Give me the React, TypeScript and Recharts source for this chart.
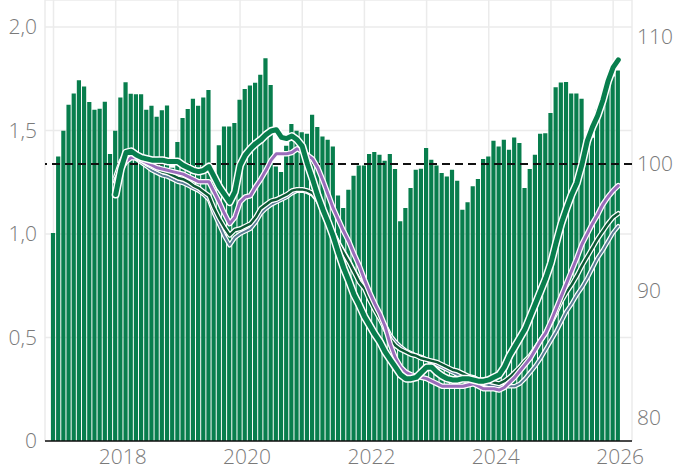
import React from "react";
import {
  ComposedChart,
  Bar,
  Line,
  XAxis,
  YAxis,
  CartesianGrid,
  ReferenceLine,
} from "recharts";

// monthly bars, Jan 2017 .. Feb 2026 (left axis)
const barValues = [
  1.005, 1.374, 1.499, 1.624, 1.679, 1.743, 1.712, 1.637, 1.6, 1.605, 1.638, 1.386,
  1.499, 1.659, 1.733, 1.677, 1.675, 1.675, 1.6, 1.619, 1.566, 1.598, 1.621, 1.32,
  1.444, 1.56, 1.603, 1.653, 1.619, 1.659, 1.695, 1.3, 1.428, 1.519, 1.519, 1.536,
  1.648, 1.7, 1.717, 1.73, 1.769, 1.849, 1.72, 1.326, 1.299, 1.426, 1.531, 1.499,
  1.491, 1.484, 1.576, 1.516, 1.471, 1.455, 1.423, 1.186, 1.125, 1.214, 1.281, 1.331,
  1.331, 1.386, 1.396, 1.383, 1.354, 1.386, 1.314, 1.061, 1.125, 1.222, 1.31, 1.315,
  1.415, 1.359, 1.331, 1.294, 1.278, 1.31, 1.257, 1.117, 1.153, 1.23, 1.265, 1.362,
  1.374, 1.45, 1.423, 1.455, 1.407, 1.466, 1.439, 1.222, 1.314, 1.383, 1.484, 1.487,
  1.584, 1.708, 1.732, 1.734, 1.679, 1.679, 1.653, 1.46, 1.465, 1.6, 1.67, 1.74,
  1.76, 1.79,
];

// index lines start in Jan 2018 (right axis)
const LINE_START = 12;

const thickGreen = [
  97.6, 99.6, 100.9, 101.0, 100.7, 100.5, 100.4, 100.3, 100.3, 100.3, 100.2, 100.2,
  100.2, 99.9, 99.7, 99.5, 99.4, 99.5, 99.8, 99.0, 98.2, 97.6, 97.0, 97.8,
  99.9, 100.7, 101.2, 101.6, 101.9, 102.3, 102.6, 102.7, 102.1, 102.0, 102.2, 101.9,
  101.4, 100.0, 98.8, 97.5, 96.4, 95.4, 94.3, 93.0, 91.8, 90.8, 89.7, 88.9,
  88.0, 87.3, 86.6, 86.0, 85.2, 84.6, 84.0, 83.4, 83.1, 83.1, 83.2, 83.6,
  84.0, 84.0, 83.6, 83.3, 83.1, 83.0, 83.0, 83.1, 83.1, 83.0, 82.9, 82.9,
  83.0, 83.2, 83.4, 84.0, 84.9, 85.6, 86.3, 87.0, 88.0, 89.0, 90.0, 91.0,
  92.2, 93.8, 95.3, 96.5, 97.6, 98.5, 100.0, 101.8, 102.9, 103.8, 105.0, 106.5,
  107.6, 108.2,
];

const purple = [
  98.6, 99.6, 100.2, 100.5, 100.5, 100.3, 100.1, 99.9, 99.7, 99.6, 99.5, 99.4,
  99.3, 99.2, 99.0, 98.8, 98.6, 98.6, 98.6, 97.8, 97.0, 96.1, 95.3, 95.8,
  97.0, 97.4, 97.5, 98.2, 98.8, 99.5, 100.3, 100.8, 100.8, 100.8, 100.9, 101.2,
  101.0, 100.7, 100.4, 99.7, 98.7, 97.6, 96.5, 95.6, 94.7, 93.9, 92.9, 92.0,
  90.9, 89.9, 89.0, 88.2, 87.2, 85.8, 84.7, 84.0, 83.6, 83.4, 83.3, 83.2,
  83.1, 82.9, 82.7, 82.5, 82.5, 82.5, 82.5, 82.5, 82.6, 82.7, 82.5, 82.3,
  82.3, 82.3, 82.2, 82.4, 82.8, 83.2, 83.7, 84.2, 84.7, 85.4, 86.1, 86.7,
  87.6, 88.6, 89.6, 90.6, 91.6, 92.6, 93.7, 94.5, 95.3, 96.0, 96.8, 97.4,
  97.9, 98.3,
];

const darkGreen = [
  99.0, 100.2, 100.9, 100.9, 100.6, 100.3, 100.0, 99.8, 99.6, 99.4, 99.3, 99.1,
  98.9, 98.8, 98.6, 98.3, 98.1, 97.8, 97.5, 96.5, 95.7, 95.0, 94.4, 94.8,
  94.9, 95.1, 95.3, 95.8, 96.5, 96.8, 97.1, 97.2, 97.4, 97.6, 97.9, 98.0,
  98.0, 97.9, 97.7, 97.2, 96.4, 95.5, 94.5, 93.7, 93.0, 92.3, 91.5, 90.7,
  90.2, 89.3, 88.5, 87.8, 87.0, 86.2, 85.7, 85.4, 85.2, 85.0, 84.9, 84.7,
  84.6, 84.5, 84.4, 84.2, 84.0, 83.8, 83.7, 83.5, 83.3, 83.2, 83.0, 83.0,
  82.9, 82.8, 82.7, 82.9, 83.2, 83.6, 84.0, 84.5, 84.9, 85.5, 86.1, 86.7,
  87.5, 88.3, 89.2, 89.9, 90.5, 91.2, 92.0, 92.7, 93.4, 94.1, 94.7, 95.3,
  95.8, 96.1,
];

const slate = [
  98.8, 99.9, 100.6, 100.7, 100.4, 100.1, 99.8, 99.5, 99.3, 99.1, 99.0, 98.8,
  98.6, 98.5, 98.3, 98.1, 97.9, 97.6, 97.2, 96.1, 95.2, 94.3, 93.6, 94.2,
  94.5, 94.7, 94.9, 95.4, 96.1, 96.5, 96.8, 97.0, 97.2, 97.4, 97.7, 97.9,
  97.9, 97.8, 97.6, 97.1, 96.4, 95.5, 94.6, 93.8, 93.1, 92.4, 91.6, 90.9,
  90.3, 89.5, 88.7, 88.0, 87.3, 86.5, 86.0, 85.6, 85.3, 85.1, 84.9, 84.8,
  84.6, 84.4, 84.2, 84.0, 83.8, 83.6, 83.4, 83.2, 83.0, 82.9, 82.8, 82.7,
  82.6, 82.5, 82.5, 82.5, 82.5, 82.5, 82.7, 83.1, 83.6, 84.1, 84.7, 85.4,
  86.1, 86.8, 87.6, 88.4, 89.0, 89.7, 90.3, 91.0, 91.8, 92.6, 93.2, 93.9,
  94.6, 95.1,
];

const yearTicks = [0, 12, 24, 36, 48, 60, 72, 84, 96, 108];
const yearLabels = ["", "2018", "", "2020", "", "2022", "", "2024", "", "2026"];
const leftTicks = [0, 0.5, 1, 1.5, 2];
const rightTicks = [80, 90, 100, 110];

const GREEN = "#087e4d";
const PURPLE = "#9a6cba";
const DARK = "#0c5a35";
const SLATE = "#5c7d96";
const TICK = { fontSize: 21, fill: "#7a7a7a", fontWeight: 300 };

const lineAt = (arr: number[], i: number) =>
  i >= LINE_START ? arr[i - LINE_START] : null;

const data = barValues.map((v, i) => ({
  i,
  rate: v,
  g1: lineAt(thickGreen, i),
  pu: lineAt(purple, i),
  dg: lineAt(darkGreen, i),
  sl: lineAt(slate, i),
}));

function outlined(key: string, color: string, w: number, halo: number) {
  return [
    <Line
      key={key + "-halo"}
      yAxisId="right"
      dataKey={key}
      stroke="#ffffff"
      strokeWidth={w + halo}
      dot={false}
      activeDot={false}
      legendType="none"
      strokeLinejoin="round"
      strokeLinecap="round"
      isAnimationActive={false}
    />,
    <Line
      key={key}
      yAxisId="right"
      dataKey={key}
      stroke={color}
      strokeWidth={w}
      dot={false}
      activeDot={false}
      legendType="none"
      strokeLinejoin="round"
      strokeLinecap="round"
      isAnimationActive={false}
    />,
  ];
}

export default function App() {
  return (
    <div style={{ position: "absolute", left: 0, top: 0 }}>
      <ComposedChart
        width={684}
        height={471}
        data={data}
        margin={{ top: 0, right: 0, bottom: 0, left: 0 }}
        style={{ fontFamily: "'Open Sans', sans-serif" }}
      >
        <CartesianGrid yAxisId="left" stroke="#ebebeb" strokeWidth={1.5} />
        <XAxis
          dataKey="i"
          type="number"
          domain={[-1.64, 111.64]}
          allowDataOverflow
          ticks={yearTicks}
          interval={0}
          tickFormatter={(v: number) => yearLabels[yearTicks.indexOf(v)] ?? ""}
          tickLine={false}
          axisLine={{ stroke: "#111", strokeWidth: 1.5 }}
          tick={{ ...TICK, dx: 7 }}
          height={30}
        />
        <YAxis
          yAxisId="left"
          domain={[0, 2.13]}
          ticks={leftTicks}
          allowDataOverflow
          tickFormatter={(v: number) => (v === 0 ? "0" : v.toFixed(1).replace(".", ","))}
          tickLine={false}
          axisLine={false}
          tick={TICK}
          width={45}
        />
        <YAxis
          yAxisId="right"
          orientation="right"
          domain={[78.19, 112.91]}
          ticks={rightTicks}
          allowDataOverflow
          tickLine={false}
          axisLine={false}
          tickSize={4}
          tickMargin={1}
          tick={TICK}
          width={52}
        />
        <Bar
          yAxisId="left"
          dataKey="rate"
          fill={GREEN}
          barSize={4.2}
          isAnimationActive={false}
        />
        <ReferenceLine
          yAxisId="right"
          y={100}
          stroke="#111"
          strokeWidth={2}
          strokeDasharray="8 5"
        />
        {outlined("sl", SLATE, 2, 2.5)}
        {outlined("dg", DARK, 2.5, 2.5)}
        {outlined("pu", PURPLE, 3, 2.5)}
        {outlined("g1", GREEN, 5, 3)}
      </ComposedChart>
    </div>
  );
}
